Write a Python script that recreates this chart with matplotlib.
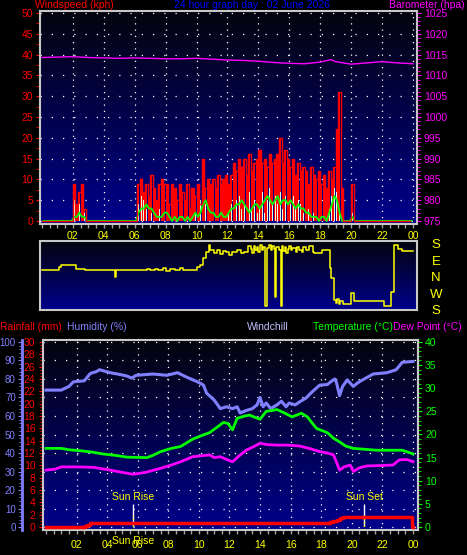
import matplotlib
matplotlib.use("Agg")
import matplotlib.pyplot as plt
import numpy as np
from matplotlib.colors import LinearSegmentedColormap
from matplotlib.ticker import MultipleLocator
from matplotlib.transforms import blended_transform_factory

plt.rcParams["font.family"] = ["Liberation Sans", "DejaVu Sans"]

# ---- data -------------------------------------------------------------
hour_ticks = [2, 4, 6, 8, 10, 12, 14, 16, 18, 20, 22, 24]
hour_labels = ["02", "04", "06", "08", "10", "12", "14", "16", "18", "20", "22", "00"]

# wind, one value per 10 minute slot (6 per hour)
gust_kph = [
    0, 0, 0, 0, 0, 0,  0, 0, 0, 0, 0, 0,  9, 4, 7, 9, 3, 0,  0, 0, 0, 0, 0, 0,
    0, 0, 0, 0, 0, 0,  0, 0, 0, 0, 0, 0,  0, 9, 10, 7, 9, 6,  11, 8, 5, 9, 10, 9,
    9, 4, 9, 8, 5, 9,  7, 5, 9, 3, 8, 6,  9, 4, 15, 8, 10, 9,  10, 8, 11, 9, 10, 11,
    9, 11, 14, 12, 15, 13,  15, 11, 16, 12, 14, 15,  17, 14, 15, 13, 16, 14,  15, 16, 20, 14, 17, 15,
    13, 15, 11, 14, 12, 13,  12, 9, 13, 11, 10, 12,  9, 11, 8, 12, 10, 13,  22, 31, 8, 0, 0, 0,
    9, 0, 0, 0, 0, 0,  0, 0, 0, 0, 0, 0,  0, 0, 0, 0, 0, 0,  0, 0, 0, 0, 0, 0,
]
avg_kph = [
    0, 0, 0, 0, 0, 0,  0, 0, 0, 0, 0, 0,  1, 1, 2, 1, 1, 0,  0, 0, 0, 0, 0, 0,
    0, 0, 0, 0, 0, 0,  0, 0, 0, 0, 0, 0,  0, 2, 3, 3, 4, 3,  3, 2, 1, 1, 1, 2,
    2, 1, 0, 1, 0, 1,  1, 0, 1, 0, 1, 2,  1, 2, 4, 5, 3, 2,  2, 1, 1, 2, 1, 1,
    2, 3, 3, 4, 4, 5,  4, 3, 2, 3, 4, 4,  3, 4, 5, 6, 5, 4,  5, 6, 4, 5, 5, 4,
    5, 4, 3, 4, 3, 3,  2, 2, 1, 1, 1, 0,  1, 1, 0, 2, 4, 6,  5, 2, 0, 0, 0, 0,
    1, 0, 0, 0, 0, 0,  0, 0, 0, 0, 0, 0,  0, 0, 0, 0, 0, 0,  0, 0, 0, 0, 0, 0,
]
speed_kph = [
    0, 0, 0, 0, 0, 0,  0, 0, 0, 0, 0, 0,  5, 0, 4, 0, 2, 0,  0, 0, 0, 0, 0, 0,
    0, 0, 0, 0, 0, 0,  0, 0, 0, 0, 0, 0,  0, 4, 6, 5, 3, 0,  2, 0, 0, 3, 0, 0,
    0, 0, 0, 0, 0, 0,  0, 0, 0, 0, 0, 2,  0, 5, 7, 4, 0, 0,  0, 0, 0, 3, 0, 0,
    2, 4, 0, 5, 6, 3,  4, 0, 7, 3, 5, 2,  3, 7, 2, 5, 8, 4,  6, 4, 7, 3, 6, 5,
    4, 6, 3, 5, 4, 2,  0, 3, 0, 2, 0, 0,  0, 0, 0, 3, 6, 8,  7, 3, 0, 0, 0, 0,
    2, 0, 0, 0, 0, 0,  0, 0, 0, 0, 0, 0,  0, 0, 0, 0, 0, 0,  0, 0, 0, 0, 0, 0,
]

baro_hours = [0, 1, 2, 3, 4, 5, 6, 7, 8, 9, 10, 11, 12, 13, 14, 15, 16, 17, 18, 18.7, 19, 20, 21, 22, 23, 24]
baro_hpa = [1014.3, 1014.4, 1014.5, 1014.3, 1014.2, 1014.1, 1014.2, 1014.1, 1014.0, 1014.0, 1014.1,
            1013.9, 1013.7, 1013.6, 1013.4, 1013.1, 1012.9, 1012.8, 1013.2, 1013.8, 1013.3, 1012.7,
            1013.0, 1013.3, 1013.0, 1012.8]

dir_hours = [0.0, 1.1, 1.2, 2.2, 2.8, 4.75, 4.8, 6.8, 7.0, 7.3, 7.5, 7.8, 8.0, 8.3, 8.6, 8.9, 9.1,
             10.0, 10.2, 10.4, 10.6, 10.8, 10.9, 11.1, 11.3, 11.5, 11.7, 11.9, 12.1, 12.3, 12.6, 12.9,
             13.1, 13.3, 13.5, 13.6, 13.7, 13.8, 13.9, 14.0, 14.1, 14.2, 14.3, 14.45, 14.55, 14.7, 14.8,
             14.9, 15.0, 15.1, 15.15, 15.3, 15.45, 15.5, 15.6, 15.7, 15.8, 15.9, 16.0, 16.1, 16.2, 16.4,
             16.5, 16.6, 16.8, 16.9, 17.1, 17.3, 17.5, 17.6, 18.1, 18.6, 18.7, 18.9, 19.0, 19.1, 19.2,
             19.3, 19.5, 20.0, 20.2, 22.1, 22.6, 22.75, 23.0, 23.3, 24.0]
dir_deg = [44, 60, 71, 51, 44, 5, 44, 48, 42, 50, 44, 52, 40, 50, 44, 52, 44,
           60, 71, 109, 140, 180, 150, 135, 150, 130, 145, 140, 125, 140, 150, 135,
           140, 175, 160, 135, 175, 150, 170, 140, 178, 155, 170, 205, 165, 178, 150,
           175, 160, 255, 170, 150, 205, 175, 145, 170, 135, 160, 175, 150, 165, 140,
           170, 155, 140, 170, 150, 175, 140, 136, 153, 55, 0, 240, 225, 245, 220,
           235, 218, 278, 235, 207, 284, 180, 160, 147, 147]

hum_hours = [0, 0.5, 1.0, 1.5, 1.8, 2.5, 2.9, 3.3, 3.5, 4.2, 4.8, 5.3, 5.6, 5.9, 7.0, 7.9, 8.6, 9.2,
             9.9, 10.3, 10.5, 11.0, 11.4, 11.8, 12.2, 12.5, 12.7, 13.1, 13.5, 13.8, 14.0, 14.2, 14.4,
             14.7, 15.1, 15.4, 15.7, 15.9, 16.3, 16.6, 17.0, 17.4, 17.9, 18.4, 18.7, 18.9, 19.0, 19.2,
             19.4, 19.7, 20.1, 20.4, 20.7, 21.4, 22.3, 22.9, 23.3, 24.0]
hum_pct = [74, 74, 74, 76, 78.5, 79, 83, 84, 85, 83.4, 82.5, 81.6, 80.5, 82, 82.7, 82, 83.4, 81,
           78.5, 76.7, 72.4, 68.6, 64, 65, 64, 65, 61.6, 63, 64, 66, 70, 65, 67,
           64, 66, 68, 65, 67, 66, 67.7, 69.7, 73, 76.7, 77, 79, 80, 78, 71,
           76, 79.5, 76, 78, 79.5, 82.7, 83.4, 85, 89, 89.5]

temp_hours = [0, 1.0, 1.5, 2.2, 3.0, 3.7, 4.5, 5.3, 6.6, 7.0, 7.5, 8.2, 8.8, 9.2, 9.6, 10.2, 10.7,
              11.2, 11.6, 11.9, 12.2, 12.5, 13.0, 13.3, 13.6, 14.0, 14.4, 14.8, 15.1, 15.5, 16.1,
              16.7, 17.1, 17.4, 17.7, 18.4, 18.8, 19.2, 19.6, 20.1, 21.6, 23.3, 24.0]
temp_c = [17.0, 17.0, 16.7, 16.5, 16.2, 15.8, 15.5, 15.1, 15.0, 15.5, 16.3, 17.0, 17.4, 18.2, 19.0,
          19.8, 20.4, 21.6, 22.6, 22.4, 21.0, 23.5, 24.0, 24.2, 23.8, 23.3, 25.0, 25.2, 25.4, 24.8,
          23.8, 24.6, 23.8, 22.5, 21.3, 20.4, 19.2, 18.4, 17.5, 17.0, 16.6, 16.6, 15.8]

dew_hours = [0, 0.6, 1.0, 1.8, 3.1, 4.2, 5.0, 5.7, 6.5, 7.5, 8.2, 8.8, 9.6, 10.2, 10.7, 11.0, 11.4,
             11.8, 12.2, 12.6, 13.1, 13.6, 14.0, 14.5, 15.1, 15.8, 16.6, 17.2, 17.9, 18.4, 18.8,
             19.0, 19.2, 19.5, 19.9, 20.1, 20.5, 21.0, 22.0, 22.7, 23.1, 23.6, 24.0]
dew_c = [12.3, 12.5, 13.0, 13.0, 12.9, 12.3, 11.8, 11.4, 11.8, 12.7, 13.4, 14.1, 15.2, 15.4, 15.6,
         15.0, 15.2, 14.6, 14.1, 15.3, 16.6, 17.4, 18.1, 17.8, 17.7, 17.7, 17.5, 17.0, 16.3, 16.0,
         15.6, 14.0, 12.3, 13.0, 13.4, 12.0, 12.8, 13.2, 13.3, 13.4, 14.5, 14.6, 14.1]

rain_hours = [0, 2.55, 2.7, 2.85, 18.6, 18.8, 19.0, 19.2, 19.4, 23.95, 24.0]
rain_mm = [0, 0.2, 0.4, 0.6, 0.8, 1.0, 1.2, 1.4, 1.6, 0, 0]

sunrise_hour = 5.7
sunset_hour = 20.8

# ---- layout -----------------------------------------------------------
W, H = 467, 555
FRAME = "#c8c8c8"
FS = 7.5
sky = LinearSegmentedColormap.from_list("sky", ["#04040e", "#00008c"])


def box(x0, y0, x1, y1):
    return [x0 / W, 1 - y1 / H, (x1 - x0) / W, (y1 - y0) / H]


def backdrop(ax):
    x0, x1 = ax.get_xlim()
    y0, y1 = ax.get_ylim()
    ax.imshow(np.linspace(0, 1, 256).reshape(-1, 1), cmap=sky, aspect="auto",
              extent=(x0, x1, y0, y1), zorder=0)
    ax.set_xlim(x0, x1)
    ax.set_ylim(y0, y1)
    ax.set_facecolor("black")
    for s in ax.spines.values():
        s.set_color(FRAME)
        s.set_linewidth(1.5)


def hour_axis(ax):
    ax.set_xticks(hour_ticks)
    ax.set_xticklabels(hour_labels)
    ax.xaxis.set_minor_locator(MultipleLocator(0.5))
    ax.tick_params(axis="x", which="both", colors="#a0a0a0", labelcolor="yellow",
                   labelsize=FS, length=3, width=1, pad=2)
    ax.xaxis.grid(True, color="white", linestyle=(0, (1, 4)), linewidth=0.9)


fig = plt.figure(figsize=(W / 100, H / 100), dpi=100, facecolor="black")

# top panel: wind speed and barometer
ax_w = fig.add_axes(box(40, 11, 417, 224))
ax_w.set_xlim(-0.13, 24.26)
ax_w.set_ylim(-0.72, 50.48)
backdrop(ax_w)
hour_axis(ax_w)
ax_w.set_yticks(range(0, 51, 5))
ax_w.yaxis.set_minor_locator(MultipleLocator(2.5))
ax_w.tick_params(axis="y", which="both", colors="red", labelsize=FS, length=3, pad=2)
ax_w.yaxis.grid(True, color="white", linestyle=(0, (1, 8)), linewidth=0.9)
ax_w.set_axisbelow(True)

slots = np.arange(len(gust_kph)) / 6
ax_w.bar(slots, gust_kph, width=0.14, align="edge", color="red", zorder=2)
ax_w.bar(slots + 0.05, speed_kph, width=0.06, align="edge", color="#e0ffe0", zorder=3)
ax_w.plot(slots + 1 / 12, avg_kph, color="#00ff00", linewidth=1.3, zorder=4)
ax_w.step(slots, gust_kph, where="post", color="red", linewidth=1, zorder=5)

ax_b = ax_w.twinx()
ax_b.set_ylim(974.28, 1025.48)
ax_b.plot(baro_hours, baro_hpa, color="#ff00ff", linewidth=1)
ax_b.set_yticks(range(975, 1026, 5))
ax_b.yaxis.set_minor_locator(MultipleLocator(1))
ax_b.tick_params(axis="y", which="both", colors="#ff00ff", labelsize=FS, length=3, pad=2)
ax_b.tick_params(axis="y", which="minor", length=2)
for s in ax_b.spines.values():
    s.set_visible(False)

# wind direction panel
ax_d = fig.add_axes(box(40, 241, 417, 310))
ax_d.set_xlim(-0.13, 24.26)
ax_d.set_ylim(-174.5, 201.8)
backdrop(ax_d)
ax_d.set_xticks([])
ax_d.set_yticks([])
dir_plot = [d if d <= 180 else d - 360 for d in dir_deg]
ax_d.step(dir_hours, dir_plot, where="post", color="yellow", linewidth=1.1, zorder=3)
tr = blended_transform_factory(ax_d.transAxes, ax_d.transData)
for lab, val in zip(["S", "E", "N", "W", "S"], [180, 90, 0, -90, -180]):
    ax_d.text(1.05, val, lab, transform=tr, color="yellow", fontsize=9.5,
              ha="center", va="center", clip_on=False)

# bottom panel: humidity, rain, temperature, dew point
ax_h = fig.add_axes(box(43, 340, 418, 530))
ax_h.set_xlim(-0.196, 24.33)
ax_h.set_ylim(-1.62, 101.08)
backdrop(ax_h)
hour_axis(ax_h)
ax_h.tick_params(axis="x", which="both", pad=4)
ax_h.set_yticks(range(0, 101, 10))
ax_h.yaxis.set_minor_locator(MultipleLocator(2))
ax_h.tick_params(axis="y", which="both", colors="#8080ff", labelsize=7, length=3, pad=1.5)
ax_h.tick_params(axis="y", which="minor", length=2)
ax_h.spines["left"].set_position(("axes", -0.056))
ax_h.spines["left"].set_color("#8080ff")
ax_h.spines["left"].set_linewidth(2)
ax_h.yaxis.grid(True, color="white", linestyle=(0, (1, 8)), linewidth=0.9)
ax_h.set_axisbelow(True)
ax_h.plot(hum_hours, hum_pct, color="#8080ff", linewidth=2.2, zorder=3)

ax_t = ax_h.twinx()
ax_t.set_ylim(-0.65, 40.43)
ax_t.plot(temp_hours, temp_c, color="#00ff00", linewidth=2)
ax_t.plot(dew_hours, dew_c, color="#ff00ff", linewidth=2)
ax_t.set_yticks(range(0, 41, 5))
ax_t.yaxis.set_minor_locator(MultipleLocator(1))
ax_t.tick_params(axis="y", which="both", colors="#00ff00", labelsize=FS, length=3, pad=2)
ax_t.tick_params(axis="y", which="minor", length=2)
for name, s in ax_t.spines.items():
    s.set_visible(name == "right")
    s.set_color(FRAME)
    s.set_linewidth(1.5)

ax_r = ax_h.twinx()
ax_r.set_ylim(-0.49, 30.32)
ax_r.yaxis.tick_left()
ax_r.step(rain_hours, rain_mm, where="post", color="red", linewidth=2.5)
ax_r.set_yticks(range(0, 31, 2))
ax_r.yaxis.set_minor_locator(MultipleLocator(0.5))
ax_r.tick_params(axis="y", which="both", colors="red", labelsize=FS, length=3, pad=2.5)
ax_r.tick_params(axis="y", which="minor", length=2)
for name, s in ax_r.spines.items():
    s.set_visible(name == "left")
    s.set_color(FRAME)
    s.set_linewidth(1.5)

for hour, name in [(sunrise_hour, "Sun Rise"), (sunset_hour, "Sun Set")]:
    ax_t.vlines(hour, 0.3, 5.0, color="white", linewidth=1)
    ax_t.vlines(hour, -0.6, 2.5, color="yellow", linewidth=1, linestyles=(0, (1, 1.5)))
    ax_t.text(hour, 6.5, name, color="yellow", fontsize=FS, ha="center", va="center")
ax_t.text(sunrise_hour, -3.0, "Sun Rise", color="yellow", fontsize=FS,
          ha="center", va="center", clip_on=False)


# header texts
def label(x, y, s, color, ha="left"):
    fig.text(x / W, 1 - y / H, s, color=color, fontsize=FS, ha=ha, va="center")


label(35, 5, "Windspeed (kph)", "red")
label(252, 5, "24 hour graph day : 02 June 2026", "#0000ff", ha="center")
label(465, 5, "Barometer (hpa)", "#ff00ff", ha="right")
label(0, 327, "Rainfall (mm)", "red")
label(67, 327, "Humidity (%)", "#8080ff")
label(247, 327, "Windchill", "#c0c0ff")
label(313, 327, "Temperature (°C)", "#00ff00")
label(462, 327, "Dew Point (°C)", "#ff00ff", ha="right")

fig.savefig("out.png", dpi=100, facecolor="black")
